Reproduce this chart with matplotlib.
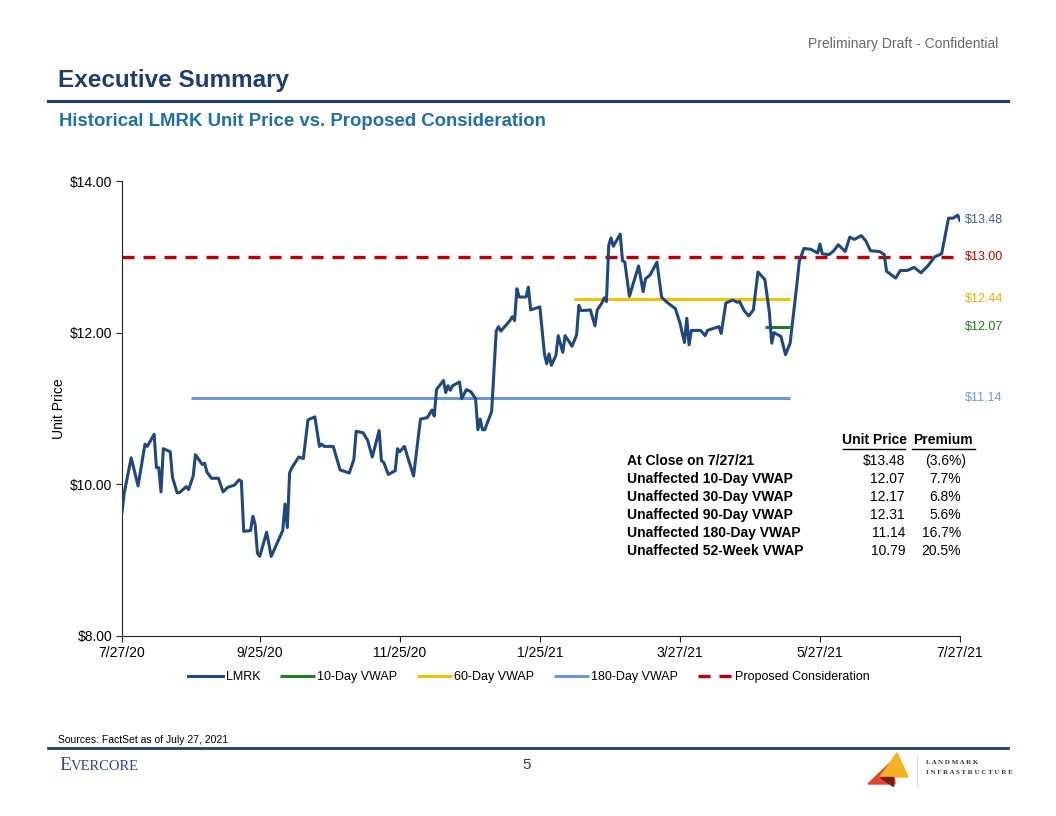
import matplotlib
matplotlib.use("Agg")
import matplotlib.pyplot as plt
import numpy as np
import pandas as pd
from matplotlib.patches import Polygon
from matplotlib.lines import Line2D

plt.rcParams["font.family"] = ["Liberation Sans", "DejaVu Sans"]

# ---- data ----
start = pd.Timestamp("2020-07-27")
lmrk_days = [0, 1, 4, 7, 10, 11, 14, 15, 16, 17, 18, 21, 22, 24, 25, 28, 29, 31, 32, 35,
             36, 37, 39, 42, 44, 46, 49, 51, 52, 53, 56, 57, 58, 59, 60, 63, 65, 70, 71, 72,
             73, 74, 77, 79, 81, 84, 86, 87, 88, 92, 95, 99, 101, 102, 105, 107, 109, 112, 113, 114,
             116, 119, 120, 121, 123, 127, 130, 133, 135, 136, 137, 140, 141, 142, 143, 144, 147, 148, 150, 152,
             154, 155, 156, 157, 158, 161, 163, 164, 165, 169, 170, 171, 172, 173, 176, 177, 178, 182, 184, 185,
             186, 187, 189, 190, 192, 193, 195, 196, 198, 199, 200, 204, 206, 207, 209, 210, 211, 212, 213, 214,
             217, 218, 219, 221, 225, 227, 228, 230, 233, 235, 237, 240, 241, 243, 245, 246, 247, 248, 252, 254,
             255, 260, 261, 263, 266, 268, 269, 271, 273, 275, 277, 280, 282, 283, 284, 287, 289, 291, 294, 295,
             297, 300, 303, 304, 305, 308, 310, 312, 315, 317, 319, 322, 324, 326, 330, 332, 333, 337, 339, 342,
             345, 348, 351, 354, 357, 360, 362, 364, 365]
lmrk_price = [9.63, 9.89, 10.35, 9.98, 10.53, 10.50, 10.66, 10.22, 10.22, 9.90, 10.47, 10.43, 10.09, 9.89, 9.89, 9.97, 9.93, 10.11, 10.39, 10.26,
              10.28, 10.16, 10.08, 10.08, 9.90, 9.96, 9.99, 10.06, 10.04, 9.38, 9.39, 9.58, 9.47, 9.09, 9.05, 9.37, 9.05, 9.39, 9.74, 9.43,
              10.15, 10.22, 10.36, 10.34, 10.85, 10.89, 10.50, 10.53, 10.50, 10.50, 10.19, 10.15, 10.33, 10.70, 10.68, 10.58, 10.36, 10.71, 10.31, 10.29,
              10.13, 10.18, 10.47, 10.43, 10.50, 10.11, 10.86, 10.88, 10.98, 10.90, 11.25, 11.37, 11.21, 11.30, 11.24, 11.30, 11.35, 11.13, 11.25, 11.22,
              11.13, 10.72, 10.86, 10.72, 10.72, 10.96, 12.02, 12.08, 12.02, 12.16, 12.21, 12.16, 12.58, 12.47, 12.47, 12.60, 12.30, 12.34, 11.72, 11.59,
              11.72, 11.57, 11.70, 11.96, 11.74, 11.96, 11.87, 11.82, 11.97, 12.36, 12.29, 12.30, 12.09, 12.30, 12.39, 12.46, 12.41, 13.15, 13.25, 13.14,
              13.30, 12.95, 12.93, 12.48, 12.88, 12.54, 12.71, 12.76, 12.93, 12.47, 12.41, 12.34, 12.32, 12.13, 11.87, 12.19, 11.84, 12.03, 12.03, 11.96,
              12.03, 12.08, 11.99, 12.39, 12.43, 12.40, 12.41, 12.29, 12.22, 12.30, 12.80, 12.70, 12.26, 11.86, 12.00, 11.95, 11.71, 11.86, 12.65, 12.94,
              13.11, 13.10, 13.05, 13.17, 13.04, 13.03, 13.08, 13.16, 13.07, 13.26, 13.23, 13.28, 13.21, 13.08, 13.07, 13.03, 12.81, 12.72, 12.82, 12.82,
              12.86, 12.79, 12.88, 13.00, 13.04, 13.51, 13.51, 13.55, 13.48]

vwap_names = ["10-Day VWAP", "60-Day VWAP", "180-Day VWAP"]
vwap_values = [12.07, 12.44, 11.14]
vwap_starts = ["2021-05-03", "2021-02-09", "2020-08-26"]
vwap_end = "2021-05-14"
proposed = 13.00

tick_dates = ["2020-07-27", "2020-09-25", "2020-11-25", "2021-01-25", "2021-03-27", "2021-05-27", "2021-07-27"]
tick_labels = ["7/27/20", "9/25/20", "11/25/20", "1/25/21", "3/27/21", "5/27/21", "7/27/21"]

table_rows = ["At Close on 7/27/21", "Unaffected 10-Day VWAP", "Unaffected 30-Day VWAP",
              "Unaffected 90-Day VWAP", "Unaffected 180-Day VWAP", "Unaffected 52-Week VWAP"]
table_price = ["$13.48", "12.07", "12.17", "12.31", "11.14", "10.79"]
table_premium = ["(3.6%)", "7.7%", "6.8%", "5.6%", "16.7%", "20.5%"]

# ---- colours ----
navy = "#1F497D"
green = "#1E7D1E"
gold = "#F2C200"
lightblue = "#6C98D8"
red = "#C00000"

W, H = 1056, 816
fig = plt.figure(figsize=(W / 100, H / 100), dpi=100)


def fx(px):
    return px / W


def fy(py):
    return 1 - py / H


ax = fig.add_axes([fx(122), fy(636), fx(960) - fx(122), fy(181) - fy(636)])

x0 = pd.Timestamp(tick_dates[0])
x1 = pd.Timestamp(tick_dates[-1])
dates = [start + pd.Timedelta(days=d) for d in lmrk_days]

ax.axhline(proposed, color=red, lw=2.4, dashes=(3.6, 2.7), label="Proposed Consideration", zorder=1)
cols = [green, gold, lightblue]
for name, val, s, c in zip(vwap_names, vwap_values, vwap_starts, cols):
    ax.plot([pd.Timestamp(s), pd.Timestamp(vwap_end)], [val, val], color=c, lw=2.2, label=name,
            solid_capstyle="butt", zorder=2)
ax.plot(dates, lmrk_price, color=navy, lw=2.2, label="LMRK", zorder=3)

ax.set_xlim(x0, x1)
ax.set_ylim(8, 14)
ax.set_yticks([8, 10, 12, 14])
ax.set_yticklabels([f"${v:.2f}" for v in [8, 10, 12, 14]])
ax.set_xticks([pd.Timestamp(d) for d in tick_dates])
ax.set_xticklabels(tick_labels)
ax.tick_params(labelsize=10, length=4, width=0.8, color="#222222", pad=3)
for s in ["top", "right"]:
    ax.spines[s].set_visible(False)
ax.spines["left"].set_color("#222222")
ax.spines["bottom"].set_color("#222222")
ax.set_ylabel("Unit Price", fontsize=10, labelpad=3)

# right side labels
lab_vals = [lmrk_price[-1], proposed, vwap_values[1], vwap_values[0], vwap_values[2]]
lab_cols = ["#3A5F8F", red, "#E0B000", green, lightblue]
for v, c in zip(lab_vals, lab_cols):
    ax.annotate(f"${v:.2f}", xy=(1, v), xycoords=("axes fraction", "data"),
                xytext=(3.5, 0), textcoords="offset points", va="center", ha="left",
                fontsize=9, color=c, annotation_clip=False)

# legend
h, l = ax.get_legend_handles_labels()
order = ["LMRK", "10-Day VWAP", "60-Day VWAP", "180-Day VWAP", "Proposed Consideration"]
hh = [h[l.index(o)] for o in order]
fig.legend(hh, order, loc="center", bbox_to_anchor=(fx(529), fy(677)), ncol=5, frameon=False,
           fontsize=9, handlelength=2.8, handletextpad=0.2, columnspacing=1.55)

# table
row_y = [461, 479, 497, 515, 533, 551]
fig.text(fx(874), fy(440), "Unit Price", ha="center", va="center", fontsize=10, fontweight="bold")
fig.text(fx(943), fy(440), "Premium", ha="center", va="center", fontsize=10, fontweight="bold")
fig.add_artist(Line2D([fx(843), fx(905)], [fy(449), fy(449)], color="black", lw=1))
fig.add_artist(Line2D([fx(912), fx(975)], [fy(449), fy(449)], color="black", lw=1))
for y, name, p, pr in zip(row_y, table_rows, table_price, table_premium):
    fig.text(fx(627), fy(y), name, ha="left", va="center", fontsize=10, fontweight="bold")
    fig.text(fx(905), fy(y), p, ha="right", va="center", fontsize=10)
    xr = 966 if pr.startswith("(") else 961
    fig.text(fx(xr), fy(y), pr, ha="right", va="center", fontsize=10)

# header
fig.text(fx(998), fy(44), "Preliminary Draft - Confidential", ha="right", va="center",
         fontsize=10, color="#666666")
fig.text(fx(58), fy(81), "Executive Summary", ha="left", va="center", fontsize=17.5,
         fontweight="bold", color="#1F3D6E")
fig.add_artist(Line2D([fx(48), fx(1008)], [fy(101), fy(101)], color="#1F3D6E", lw=2.2))
fig.text(fx(59), fy(122), "Historical LMRK Unit Price vs. Proposed Consideration", ha="left",
         va="center", fontsize=13.4, fontweight="bold", color="#1F6FA8")

# footer
fig.text(fx(58), fy(740), "Sources: FactSet as of July 27, 2021", ha="left", va="center", fontsize=7.5)
fig.add_artist(Line2D([fx(48), fx(1008)], [fy(748), fy(748)], color="#1F3D6E", lw=2))
fig.text(fx(59), fy(766), "E", ha="left", va="center", fontsize=14, family="Liberation Serif",
         color="#2B4A7A")
fig.text(fx(71), fy(767), "VERCORE", ha="left", va="center", fontsize=10.5, family="Liberation Serif",
         color="#2B4A7A")
fig.text(fx(527), fy(765), "5", ha="center", va="center", fontsize=11, color="#1F3D6E")

# landmark logo
tri1 = [(fx(897), fy(753)), (fx(880), fy(777)), (fx(908), fy(777))]
tri2 = [(fx(893), fy(760)), (fx(868), fy(784)), (fx(895), fy(784))]
tri3 = [(fx(880), fy(777)), (fx(893), fy(777)), (fx(893), fy(786))]
fig.add_artist(Polygon(tri2, closed=True, color="#D9482B", transform=fig.transFigure))
fig.add_artist(Polygon(tri1, closed=True, color="#F6B026", transform=fig.transFigure))
fig.add_artist(Polygon(tri3, closed=True, color="#7A1E14", transform=fig.transFigure))
fig.add_artist(Line2D([fx(917), fx(917)], [fy(755), fy(787)], color="#DDDDDD", lw=0.8))
fig.text(fx(926), fy(763), "L A N D M A R K", ha="left", va="center", fontsize=5,
         family="Liberation Serif", fontweight="bold", color="#333333")
fig.text(fx(926), fy(773), "I N F R A S T R U C T U R E", ha="left", va="center", fontsize=5,
         family="Liberation Serif", fontweight="bold", color="#333333")

fig.savefig("out.png", dpi=100)
